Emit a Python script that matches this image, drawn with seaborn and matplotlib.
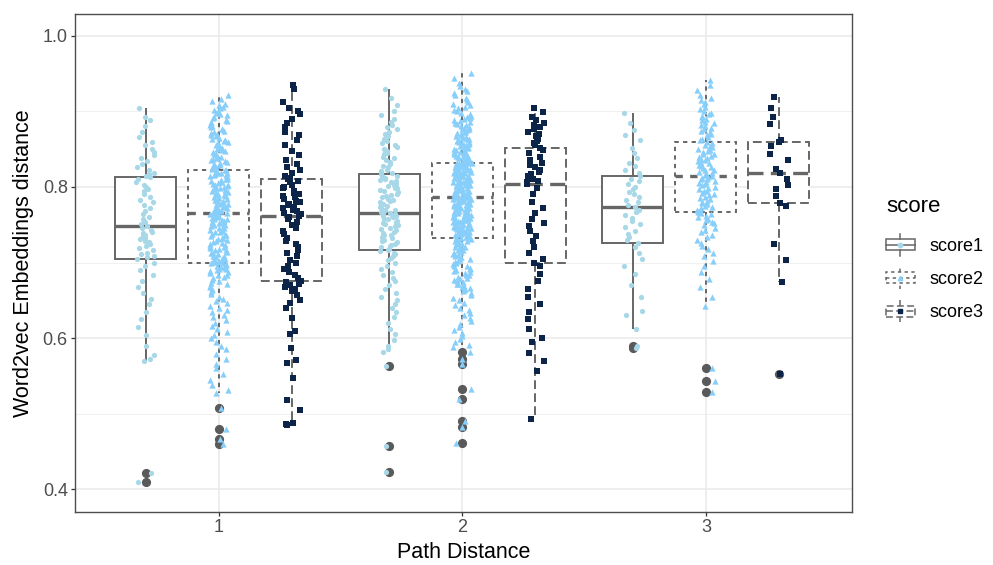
import numpy as np
import pandas as pd
import matplotlib
matplotlib.use("Agg")
import matplotlib.pyplot as plt
from matplotlib.patches import Rectangle
from matplotlib.lines import Line2D
from matplotlib.legend_handler import HandlerBase
from matplotlib.ticker import FixedLocator
import seaborn as sns

plt.rcParams["font.family"] = ["Liberation Sans", "DejaVu Sans"]

path_distances = [1, 2, 3]
score_names = ["score1", "score2", "score3"]

# Word2vec embedding distances per path distance (d1..d3) and score
d1_score1 = [
    .410, .422, .570, .572, .578, .590, .604, .615, .625, .635, .645, .652, .660, .668, .676, .684, .690, .695, .700,
    .705,
    .707, .709, .711, .713, .716, .719, .722, .725, .727, .729, .731, .733, .735, .737, .739, .741, .743, .745,
    .748,
    .751, .754, .757, .760, .764, .768, .772, .776, .780, .783, .787, .790, .794, .797, .800, .803, .806, .810,
    .813,
    .815, .817, .819, .822, .826, .830, .834, .838, .842, .846, .850, .856, .860, .866, .872, .880, .888, .893, .905,
]
d1_score2 = [
    .460, .466, .480, .507,
    .527, .531, .538, .545, .552, .560, .566, .573, .579, .585, .590, .595, .600, .604, .608, .612, .616, .620,
    .624, .628, .631, .634, .637, .640, .643, .646, .649, .652, .655, .658, .661, .663, .665, .667, .669, .671,
    .673, .675, .677, .679, .681, .683, .684, .686, .687, .689, .690, .691, .692, .693, .694, .695, .696, .697,
    .698, .699,
    .700,
    .701, .701, .702, .704, .705, .705, .707, .708, .709, .711, .712, .713, .714, .716, .717, .718, .719, .721,
    .722, .723, .725, .726, .727, .728, .730, .731, .732, .733, .735, .736, .737, .738, .740, .741, .742, .743,
    .745, .746, .747, .748, .749, .750, .751, .752, .753, .754, .755, .756, .757, .758, .759, .759, .760, .761,
    .762, .762, .763, .764, .764,
    .765,
    .766, .766, .767, .768, .769, .770, .771, .772, .773, .774, .775, .776, .777, .778, .779, .780, .781, .782,
    .783, .784, .785, .786, .787, .788, .789, .790, .791, .792, .793, .794, .795, .796, .797, .798, .799, .800,
    .801, .802, .803, .804, .805, .806, .807, .808, .809, .810, .811, .812, .813, .814, .815, .816, .816, .817,
    .818, .819, .819, .820, .821,
    .822,
    .823, .824, .825, .826, .827, .829, .830, .831, .833, .834, .835, .837, .838, .840, .841, .843, .844, .846,
    .847, .849, .850, .852, .853, .855, .856, .858, .859, .861, .862, .864, .865, .867, .868, .870, .871, .873,
    .874, .876, .877, .879, .880, .882, .884, .886, .887, .889, .891, .893, .895, .897, .898, .900, .902, .904,
    .906, .908, .910, .913, .916, .921,
]
d1_score3 = [
    .485, .487, .488, .505, .518, .547, .567, .571, .587, .606, .610, .626, .640, .646, .650, .657, .662, .665,
    .668, .670, .672, .674,
    .676,
    .680, .683, .688, .692, .695, .700, .703, .708, .712, .716, .720, .725, .729, .733, .738, .742, .746, .750,
    .754, .757, .760,
    .762,
    .764, .766, .768, .770, .772, .774, .776, .778, .780, .782, .784, .786, .788, .790, .792, .795, .798, .800,
    .803, .806, .808,
    .810,
    .812, .815, .818, .822, .826, .830, .836, .842, .848, .855, .862, .868, .873, .879, .885, .890, .896, .900,
    .905, .912, .930, .935,
]
d2_score1 = [
    .423, .457, .563,
    .582, .585, .590, .598, .605, .612, .620, .628, .635, .640, .645, .650, .655, .660, .665, .670, .675, .680,
    .684, .688, .692, .696, .700, .703, .706, .709, .711, .713, .715,
    .717,
    .718, .720, .722, .723, .725, .727, .729, .730, .732, .734, .736, .737, .739, .741, .743, .744, .746, .748,
    .749, .751, .752, .754, .755, .757, .758, .760, .761, .762, .763, .764, .765,
    .766,
    .767, .769, .770, .772, .773, .775, .776, .778, .780, .781, .783, .784, .786, .788, .789, .791, .793, .794,
    .796, .798, .799, .801, .803, .804, .806, .808, .809, .811, .812, .814, .815,
    .817,
    .819, .821, .823, .826, .828, .830, .833, .835, .838, .840, .843, .845, .848, .850, .853, .856, .858, .861,
    .864, .867, .870, .873, .876, .879, .882, .886, .890, .895, .900, .908, .918, .930,
]
d2_score2 = [
    .461, .482, .490, .520, .533, .566, .573, .582,
    .588, .591, .595, .599, .603, .607, .611, .615, .619, .622, .626, .630, .633, .637, .640, .644, .647, .650,
    .653, .657,
    .660, .662, .663, .665, .666, .668, .669, .671, .672, .674, .675, .677, .678, .680, .681, .683, .684, .686,
    .687, .689, .690, .692, .693, .695, .696, .698, .699, .701, .702, .704, .705, .707, .708, .710, .711, .713,
    .714, .716, .717, .719, .720, .721, .722, .724, .725, .726, .727, .728, .729, .730, .731, .732,
    .733,
    .734, .734, .735, .736, .736, .737, .738, .738, .739, .740, .740, .741, .742, .742, .743, .744, .744, .745,
    .746, .746, .747, .748, .748, .749, .750, .750, .751, .752, .752, .753, .754, .754, .755, .756, .756, .757,
    .758, .758, .759, .760, .760, .761, .762, .762, .763, .764, .764, .765, .766, .766, .767, .768, .768, .769,
    .770, .770, .771, .772, .772, .773, .774, .774, .775, .776, .776, .777, .778, .778, .779, .780, .780, .781,
    .782, .782, .783, .784, .784, .785, .785,
    .786,
    .787, .787, .788, .788, .789, .790, .790, .791, .791, .792, .793, .793, .794, .794, .795, .796, .796, .797,
    .797, .798, .799, .799, .800, .800, .801, .802, .802, .803, .803, .804, .805, .805, .806, .806, .807, .808,
    .808, .809, .809, .810, .811, .811, .812, .812, .813, .814, .814, .815, .815, .816, .817, .817, .818, .818,
    .819, .820, .820, .821, .821, .822, .823, .823, .824, .824, .825, .826, .826, .827, .827, .828, .829, .829,
    .830, .830, .831, .831, .831, .831, .831,
    .832,
    .833, .834, .835, .835, .836, .837, .838, .839, .840, .840, .841, .842, .843, .844, .845, .846, .846, .847,
    .848, .849, .850, .851, .852, .853, .854, .855, .856, .857, .858, .859, .860, .861, .862, .863, .864, .865,
    .866, .867, .868, .869, .870, .871, .872, .873, .874, .875, .876, .877, .878, .879, .880, .882, .883, .884,
    .886, .887, .888, .890, .891, .893, .894, .896, .898, .900, .902, .904, .906, .908, .910, .912, .915, .918,
    .921, .924, .927, .930, .934, .938, .944, .950,
]
d2_score3 = [
    .493, .557, .570, .580, .595, .600, .612, .625, .635, .645, .655, .665, .675, .685, .695,
    .699,
    .705, .712, .720, .728, .735, .742, .748, .752, .758, .765, .772, .780, .790, .798,
    .804,
    .806, .808, .811, .814, .817, .820, .823, .826, .829, .832, .836, .840, .845, .849,
    .852,
    .855, .858, .861, .864, .867, .870, .873, .876, .879, .882, .885, .889, .893, .899, .905,
]
d3_score1 = [
    .587, .590, .612, .630, .636, .655, .670, .685, .695, .705, .712, .720,
    .726,
    .730, .734, .738, .742, .747, .751, .755, .759, .763, .767, .770,
    .773,
    .776, .780, .783, .787, .790, .793, .797, .800, .804, .808, .811,
    .814,
    .818, .822, .827, .832, .838, .845, .852, .862, .868, .875, .885, .898,
]
d3_score2 = [
    .529, .543, .560,
    .643, .655, .668, .678, .688, .695, .702, .708, .713, .718, .722, .726, .730, .734, .737, .740, .743, .746,
    .749, .752, .754, .756, .758, .760, .762, .764, .765,
    .767,
    .769, .770, .772, .774, .775, .777, .779, .780, .782, .784, .785, .787, .789, .790, .792, .794, .795, .797,
    .799, .800, .802, .804, .805, .807, .808, .810, .811, .812, .813,
    .814,
    .816, .817, .819, .820, .822, .823, .825, .826, .828, .829, .831, .832, .834, .835, .837, .838, .840, .841,
    .843, .844, .846, .847, .849, .850, .852, .853, .855, .856, .858,
    .860,
    .862, .864, .866, .868, .870, .872, .874, .876, .878, .880, .882, .884, .886, .888, .890, .892, .894, .896,
    .898, .900, .903, .906, .909, .912, .915, .918, .922, .928, .935, .942,
]
d3_score3 = [
    .552, .674, .703, .724, .775,
    .779,
    .788, .797, .803, .811,
    .818,
    .824, .835, .843, .854,
    .860,
    .862, .883, .893, .904, .919,
]

values_by_group = {
    (1, "score1"): d1_score1, (1, "score2"): d1_score2, (1, "score3"): d1_score3,
    (2, "score1"): d2_score1, (2, "score2"): d2_score2, (2, "score3"): d2_score3,
    (3, "score1"): d3_score1, (3, "score2"): d3_score2, (3, "score3"): d3_score3,
}

rows = []
for (dist, score), vals in values_by_group.items():
    for v in vals:
        rows.append({"path": dist, "score": score, "value": v})
df = pd.DataFrame(rows)

# horizontal dodge of the three scores inside each path distance
dodge = {"score1": -0.3, "score2": 0.0, "score3": 0.3}
df["pos"] = df["path"] + df["score"].map(dodge)

point_colors = {"score1": "#A8D8E8", "score2": "#87CEFA", "score3": "#0B2447"}
point_markers = {"score1": "o", "score2": "^", "score3": "s"}
point_sizes = {"score1": 3.8, "score2": 4.5, "score3": 3.7}
line_styles = {"score1": "-", "score2": (0, (2.2, 2.2)), "score3": (0, (4.5, 2.2))}
box_line = "#666666"
flier_col = "#5A5A5A"

np.random.seed(7)

fig = plt.figure(figsize=(9.93, 5.65), dpi=100)
ax = fig.add_axes([75 / 993, 1 - 512 / 565, (852 - 75) / 993, (512 - 14) / 565])

for s in score_names:
    sub = df[df["score"] == s]
    ls = line_styles[s]
    sns.boxplot(
        data=sub, x="pos", y="value", native_scale=True, orient="x", ax=ax,
        width=0.25, color="white", linecolor=box_line, linewidth=1.4,
        showcaps=False,
        boxprops=dict(linestyle=ls, zorder=2),
        whiskerprops=dict(linestyle=ls, zorder=2),
        medianprops=dict(linestyle=ls, linewidth=2.4, zorder=2.1),
        flierprops=dict(marker="o", markerfacecolor=flier_col, markeredgecolor=flier_col,
                        markersize=5.6, zorder=2.2),
    )

for s in score_names:
    sub = df[df["score"] == s]
    sns.stripplot(
        data=sub, x="pos", y="value", native_scale=True, orient="x", ax=ax,
        jitter=0.038, color=point_colors[s], marker=point_markers[s],
        size=point_sizes[s], linewidth=0, zorder=3,
    )

# panel styling in the manner of theme_bw
ax.set_xlim(0.41, 3.6)
ax.set_ylim(0.370, 1.0287)
ax.xaxis.set_major_locator(FixedLocator(path_distances))
ax.set_xticklabels([str(p) for p in path_distances])
ax.yaxis.set_major_locator(FixedLocator([0.4, 0.6, 0.8, 1.0]))
ax.yaxis.set_minor_locator(FixedLocator([0.5, 0.7, 0.9]))
ax.set_yticklabels(["0.4", "0.6", "0.8", "1.0"])
ax.set_axisbelow(True)
ax.grid(which="major", color="#EBEBEB", linewidth=1.2)
ax.grid(which="minor", axis="y", color="#F0F0F0", linewidth=0.7)
ax.tick_params(which="major", length=3.2, width=0.9, color="#333333",
               labelsize=13, labelcolor="#4D4D4D", pad=2)
ax.tick_params(which="minor", length=0)
for sp in ax.spines.values():
    sp.set_color("#4D4D4D")
    sp.set_linewidth(1.0)
ax.set_xlabel("Path Distance", fontsize=15.5, labelpad=4)
ax.set_ylabel("Word2vec Embeddings distance", fontsize=15.5, labelpad=6)


class BoxKey(HandlerBase):
    """Small boxplot glyph with the score's point marker in the middle."""

    def __init__(self, ls, color, marker):
        super().__init__()
        self.ls, self.color, self.marker = ls, color, marker

    def create_artists(self, legend, orig_handle, xdescent, ydescent,
                       width, height, fontsize, trans):
        x0 = -xdescent
        y0 = -ydescent
        xm = x0 + width / 2
        kw = dict(color=box_line, linewidth=1.1, linestyle=self.ls, transform=trans)
        box = Rectangle((x0, y0 + 0.25 * height), width, 0.5 * height,
                        facecolor="white", edgecolor=box_line, linewidth=1.1,
                        linestyle=self.ls, transform=trans)
        top = Line2D([xm, xm], [y0 + 0.75 * height, y0 + height], **kw)
        bot = Line2D([xm, xm], [y0, y0 + 0.25 * height], **kw)
        med = Line2D([x0, x0 + width], [y0 + 0.5 * height] * 2, **kw)
        pt = Line2D([xm], [y0 + 0.5 * height], marker=self.marker, markersize=3.2,
                    color=self.color, linestyle="none", transform=trans)
        return [box, top, bot, med, pt]


handles = [Line2D([], []) for _ in score_names]
handler_map = {h: BoxKey(line_styles[s], point_colors[s], point_markers[s])
               for h, s in zip(handles, score_names)}
leg = fig.legend(
    handles, score_names, handler_map=handler_map, title="score",
    loc="center left", bbox_to_anchor=(886 / 993, 1 - 259 / 565),
    frameon=False, fontsize=13, title_fontsize=16, alignment="left",
    handlelength=1.6, handleheight=1.5, handletextpad=0.8, labelspacing=0.62,
    borderpad=0, borderaxespad=0,
)
# a little more room between the legend title and its keys
leg._legend_box.sep = 12

fig.savefig("out.png", dpi=100)
